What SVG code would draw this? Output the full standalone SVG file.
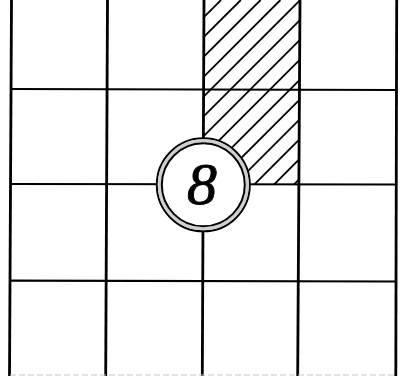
<svg xmlns="http://www.w3.org/2000/svg" width="415" height="376" viewBox="0 0 415 376">
  <defs>
    <style>
      .v { stroke: #000; stroke-width: 2.8; fill: none; }
      .h { stroke: #000; stroke-width: 2.2; fill: none; }
      .hatch line { stroke: #000; stroke-width: 1.8; }
      .lbl { font-family: "Liberation Serif", "DejaVu Serif", serif; font-style: italic; font-size: 60px; fill: #000; stroke: #000; stroke-width: 0.9; }
    </style>
    <clipPath id="hatchClip">
      <rect x="204" y="0" width="96" height="184.5"/>
    </clipPath>
  </defs>
  <rect width="415" height="376" fill="#fff"/>

  <g id="hatching" class="hatch" clip-path="url(#hatchClip)">
    <line x1="21" y1="200" x2="221" y2="0"/>
    <line x1="40.8" y1="200" x2="240.8" y2="0"/>
    <line x1="60.6" y1="200" x2="260.6" y2="0"/>
    <line x1="80.4" y1="200" x2="280.4" y2="0"/>
    <line x1="100.2" y1="200" x2="300.2" y2="0"/>
    <line x1="120" y1="200" x2="320" y2="0"/>
    <line x1="139.8" y1="200" x2="339.8" y2="0"/>
    <line x1="159.6" y1="200" x2="359.6" y2="0"/>
    <line x1="179.4" y1="200" x2="379.4" y2="0"/>
    <line x1="199.2" y1="200" x2="399.2" y2="0"/>
    <line x1="219" y1="200" x2="419" y2="0"/>
    <line x1="238.8" y1="200" x2="438.8" y2="0"/>
    <line x1="258.6" y1="200" x2="458.6" y2="0"/>
    <line x1="278.4" y1="200" x2="478.4" y2="0"/>
  </g>

  <g id="connectors">
    <line class="v" x1="11.5" y1="0" x2="9.5" y2="376"/>
    <line class="v" x1="107.5" y1="0" x2="105.7" y2="376"/>
    <line class="v" x1="204" y1="0" x2="202.3" y2="376"/>
    <line class="v" x1="300" y1="0" x2="297.7" y2="376"/>
    <line class="v" x1="396.7" y1="0" x2="395.8" y2="376"/>
    <line class="h" x1="10" y1="89" x2="397" y2="90"/>
    <line class="h" x1="10" y1="184" x2="397" y2="184.5"/>
    <line class="h" x1="10" y1="280.6" x2="397" y2="281.5"/>
    <line x1="10" y1="375" x2="396" y2="375" stroke="#c8c8c8" stroke-width="1" stroke-dasharray="6 3"/>
  </g>

  <g id="node-8">
    <circle cx="203.3" cy="184.8" r="46.5" fill="#fff" stroke="#000" stroke-width="2"/>
    <circle cx="203.3" cy="184.8" r="44" fill="none" stroke="#cfcfcf" stroke-width="3"/>
    <circle cx="203.3" cy="184.8" r="41.5" fill="#fff" stroke="#000" stroke-width="2"/>
    <text class="lbl" x="202" y="204" text-anchor="middle">8</text>
  </g>
</svg>
